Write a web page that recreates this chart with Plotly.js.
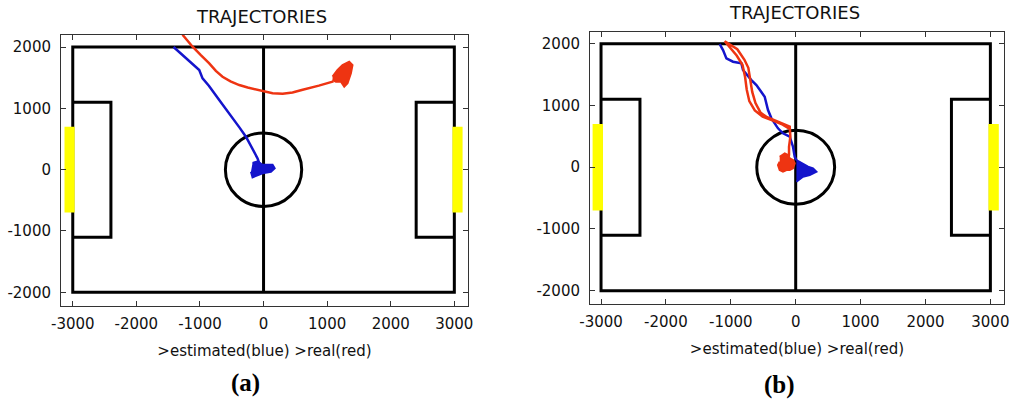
<!DOCTYPE html>
<html>
<head>
<meta charset="utf-8">
<script src="https://cdn.plot.ly/plotly-3.0.1.min.js"></script>
<style>html,body{margin:0;padding:0;background:#fff;}#chart{width:1024px;height:401px;}</style>
</head>
<body>
<div id="chart"></div>
<script>
// ---- tick labels ----
const xTickVals = [-3000, -2000, -1000, 0, 1000, 2000, 3000];
const xTickText = ["-3000", "-2000", "-1000", "0", "1000", "2000", "3000"];
const yTickVals = [-2000, -1000, 0, 1000, 2000];
const yTickText = ["-2000", "-1000", "0", "1000", "2000"];

// ---- field geometry (mm) ----
const fieldHalfX = 3000;
const fieldHalfY = 2000;
const centerRadius = 600;
const penaltyX = 2400;
const penaltyY = 1100;
const goalX = [2970, 3130];
const goalY = 700;

// ---- (a) trajectories ----
const blueAx = [-1415, -1360, -1299, -1200, -1100, -1011, -959, -860, -697, -590, -487, -380, -277, -180, -94, -60];
const blueAy = [2000, 1950, 1897, 1800, 1710, 1625, 1489, 1370, 1135, 990, 837, 690, 537, 360, 184, 80];
const blueAblobX = [-173, -94, -16, 142, 175, 116, -16, -94, -173, -198];
const blueAblobY = [110, 135, 80, 80, 21, -34, -60, -95, -125, -34];
const redAx = [-1274, -1200, -1116, -990, -854, -750, -645, -520, -382, -250, -68, 40, 142, 300, 456, 600, 719, 870, 1033, 1100];
const redAy = [2200, 2100, 2005, 1870, 1734, 1610, 1515, 1440, 1380, 1340, 1299, 1270, 1245, 1240, 1260, 1300, 1326, 1370, 1420, 1440];
const redAblobX = [1085, 1164, 1242, 1347, 1399, 1374, 1321, 1269, 1217, 1138, 1085];
const redAblobY = [1516, 1625, 1706, 1760, 1706, 1571, 1408, 1352, 1434, 1434, 1462];

// ---- (b) trajectories ----
const blueBx = [-1171, -1120, -1068, -966, -837, -812, -683, -606, -478, -427, -374, -273, -196, -92, -42, -15, 11];
const blueBy = [1995, 1898, 1763, 1709, 1682, 1574, 1412, 1331, 1142, 926, 792, 630, 549, 494, 332, 170, 117];
const blueBblobX = [11, 112, 190, 267, 319, 216, 112, 11];
const blueBblobY = [117, 63, 8, -18, -73, -126, -154, -235];
const redBx = [-150, -103, -103, -82, -92, -200, -320, -440, -540, -620, -670, -700, -730, -790, -900, -1094,
               -1020, -910, -820, -780, -755, -715, -630, -510, -360, -200, -92];
const redBy = [80, 198, 332, 494, 656, 700, 760, 810, 880, 1040, 1220, 1440, 1610, 1740, 1910, 2040,
               1950, 1810, 1660, 1460, 1260, 1070, 920, 820, 760, 690, 620];
const redBblobX = [-247, -169, -119, -92, -42, -15, -42, -92, -143, -196, -247, -273, -247];
const redBblobY = [170, 225, 198, 144, 117, 63, -18, -45, -45, -73, -45, 36, 90];

const BLUE = '#1414cc';
const RED = '#ee3412';

function lineTrace(x, y, color, xa, ya) {
  return {x: x, y: y, type: 'scatter', mode: 'lines', xaxis: xa, yaxis: ya,
          line: {color: color, width: 2.5}, showlegend: false, hoverinfo: 'skip'};
}
function blobTrace(x, y, color, xa, ya) {
  return {x: x, y: y, type: 'scatter', mode: 'lines', fill: 'toself', fillcolor: color, xaxis: xa, yaxis: ya,
          line: {color: color, width: 2}, showlegend: false, hoverinfo: 'skip'};
}

const traces = [
  lineTrace(blueAx, blueAy, BLUE, 'x', 'y'),
  blobTrace(blueAblobX, blueAblobY, BLUE, 'x', 'y'),
  lineTrace(redAx, redAy, RED, 'x', 'y'),
  blobTrace(redAblobX, redAblobY, RED, 'x', 'y'),
  lineTrace(blueBx, blueBy, BLUE, 'x2', 'y2'),
  blobTrace(blueBblobX, blueBblobY, BLUE, 'x2', 'y2'),
  lineTrace(redBx, redBy, RED, 'x2', 'y2'),
  blobTrace(redBblobX, redBblobY, RED, 'x2', 'y2')
];

function fieldShapes(xr, yr) {
  const ln = {color: '#000', width: 3};
  const s = [];
  s.push({type: 'rect', xref: xr, yref: yr, x0: -fieldHalfX, x1: fieldHalfX, y0: -fieldHalfY, y1: fieldHalfY, line: ln, layer: 'below'});
  s.push({type: 'line', xref: xr, yref: yr, x0: 0, x1: 0, y0: -fieldHalfY, y1: fieldHalfY, line: ln, layer: 'below'});
  s.push({type: 'circle', xref: xr, yref: yr, x0: -centerRadius, x1: centerRadius, y0: -centerRadius, y1: centerRadius, line: ln, layer: 'below'});
  s.push({type: 'path', xref: xr, yref: yr, layer: 'below', line: ln,
          path: 'M ' + (-fieldHalfX) + ',' + penaltyY + ' L ' + (-penaltyX) + ',' + penaltyY + ' L ' + (-penaltyX) + ',' + (-penaltyY) + ' L ' + (-fieldHalfX) + ',' + (-penaltyY)});
  s.push({type: 'path', xref: xr, yref: yr, layer: 'below', line: ln,
          path: 'M ' + fieldHalfX + ',' + penaltyY + ' L ' + penaltyX + ',' + penaltyY + ' L ' + penaltyX + ',' + (-penaltyY) + ' L ' + fieldHalfX + ',' + (-penaltyY)});
  s.push({type: 'rect', xref: xr, yref: yr, x0: -goalX[1], x1: -goalX[0], y0: -goalY, y1: goalY, fillcolor: '#ffff00', line: {width: 0}, layer: 'below'});
  s.push({type: 'rect', xref: xr, yref: yr, x0: goalX[0], x1: goalX[1], y0: -goalY, y1: goalY, fillcolor: '#ffff00', line: {width: 0}, layer: 'below'});
  return s;
}

const tickFont = {family: 'DejaVu Sans', size: 15, color: '#111'};
function xAxis(domain, range, anchor) {
  return {domain: domain, range: range, anchor: anchor, tickvals: xTickVals, ticktext: xTickText,
          ticks: 'inside', ticklen: 5, tickwidth: 1, tickcolor: '#333', mirror: 'ticks',
          showline: true, linecolor: '#333', linewidth: 1, showgrid: false, zeroline: false,
          tickfont: tickFont, ticklabelstandoff: 4,
          title: {text: '>estimated(blue) >real(red)', font: {family: 'DejaVu Sans', size: 15, color: '#111'}, standoff: 13},
          fixedrange: true};
}
function yAxis(domain, range, anchor) {
  return {domain: domain, range: range, anchor: anchor, tickvals: yTickVals, ticktext: yTickText,
          ticks: 'inside', ticklen: 5, tickwidth: 1, tickcolor: '#333', mirror: 'ticks',
          showline: true, linecolor: '#333', linewidth: 1, showgrid: false, zeroline: false,
          tickfont: tickFont, ticklabelstandoff: 6, fixedrange: true};
}

const layout = {
  width: 1024, height: 401, autosize: false,
  margin: {l: 0, r: 0, t: 0, b: 0},
  paper_bgcolor: '#fff', plot_bgcolor: '#fff',
  showlegend: false,
  xaxis: xAxis([0.05957, 0.45703], [-3185, 3215], 'y'),
  yaxis: yAxis([0.23691, 0.91272], [-2223, 2196], 'x'),
  xaxis2: xAxis([0.57617, 0.98047], [-3170, 3210], 'y2'),
  yaxis2: yAxis([0.24190, 0.91945], [-2215, 2185], 'x2'),
  shapes: fieldShapes('x', 'y').concat(fieldShapes('x2', 'y2')),
  annotations: [
    {text: 'TRAJECTORIES', xref: 'paper', yref: 'paper', x: 0.2556, y: 0.9584, xanchor: 'center', yanchor: 'middle', showarrow: false,
     font: {family: 'DejaVu Sans', size: 18, color: '#111'}},
    {text: 'TRAJECTORIES', xref: 'paper', yref: 'paper', x: 0.7754, y: 0.9683, xanchor: 'center', yanchor: 'middle', showarrow: false,
     font: {family: 'DejaVu Sans', size: 18, color: '#111'}},
    {text: '<b>(a)</b>', xref: 'paper', yref: 'paper', x: 0.2393, y: 1 - 383 / 401, xanchor: 'center', yanchor: 'middle', showarrow: false,
     font: {family: 'Liberation Serif', size: 25, color: '#000'}},
    {text: '<b>(b)</b>', xref: 'paper', yref: 'paper', x: 0.7617, y: 1 - 385 / 401, xanchor: 'center', yanchor: 'middle', showarrow: false,
     font: {family: 'Liberation Serif', size: 25, color: '#000'}}
  ]
};

Plotly.newPlot('chart', traces, layout, {staticPlot: true, displayModeBar: false});
</script>
</body>
</html>
